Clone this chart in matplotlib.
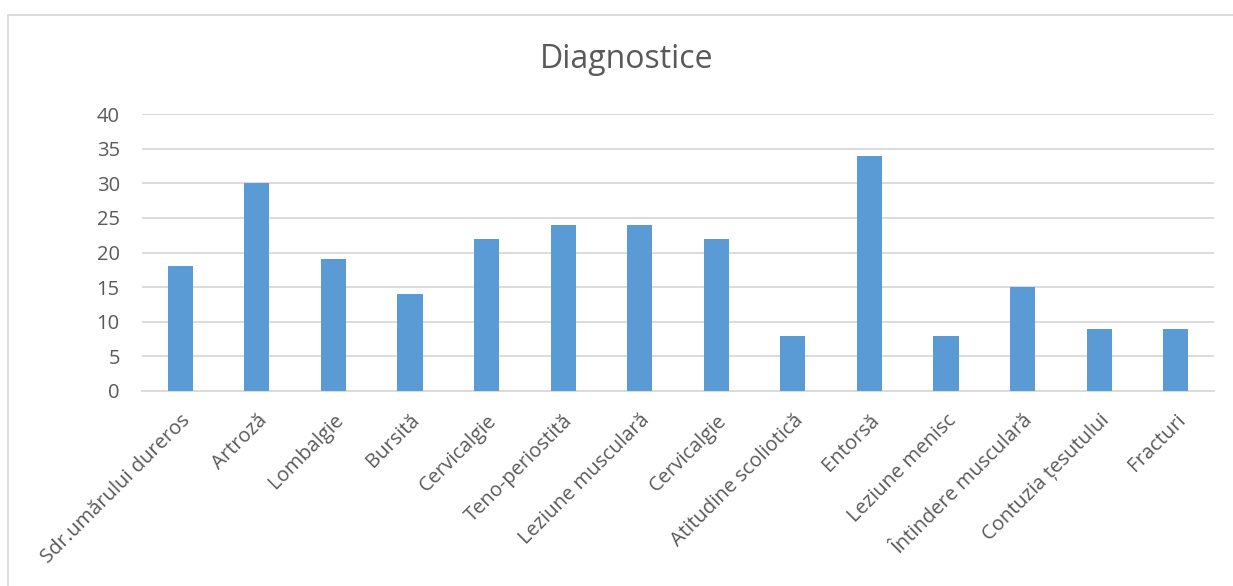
import matplotlib.pyplot as plt
from matplotlib.lines import Line2D
import numpy as np

plt.rcParams['font.family'] = ['Open Sans', 'DejaVu Sans']

categories = ['Sdr.umărului dureros', 'Artroză', 'Lombalgie', 'Bursită',
              'Cervicalgie', 'Teno-periostită', 'Leziune musculară',
              'Cervicalgie', 'Atitudine scoliotică', 'Entorsă',
              'Leziune menisc', 'Întindere musculară', 'Contuzia țesutului',
              'Fracturi']
values = [18, 30, 19, 14, 22, 24, 24, 22, 8, 34, 8, 15, 9, 9]
y_ticks = [0, 5, 10, 15, 20, 25, 30, 35, 40]

W, H = 1233, 586
fig = plt.figure(figsize=(W / 100, H / 100), dpi=100)
ax = fig.add_axes([142 / W, 1 - 391 / H, (1214 - 142) / W, (391 - 114) / H])

x = np.arange(len(categories))
ax.bar(x, values, width=0.33, color='#5b9bd5', zorder=3)
ax.set_xlim(-0.5, len(categories) - 0.5)
ax.set_ylim(0, 40)
ax.set_yticks(y_ticks)
ax.yaxis.grid(True, color='#d9d9d9', linewidth=1.3, zorder=0)

for s in ['top', 'right', 'left']:
    ax.spines[s].set_visible(False)
ax.spines['bottom'].set_color('#d9d9d9')
ax.spines['bottom'].set_linewidth(1.3)

ax.set_xticks(x)
ax.set_xticklabels(categories, rotation=45, ha='right', rotation_mode='anchor')
ax.tick_params(axis='both', length=0, labelsize=14.5, labelcolor='#595959')
ax.tick_params(axis='x', pad=14)
ax.tick_params(axis='y', pad=16)

fig.text(627 / W, 1 - 60 / H, 'Diagnostice', ha='center', va='center',
         fontsize=23, color='#595959')

# chart frame (only top and left visible in the crop)
fig.add_artist(Line2D([8 / W, 1], [1 - 15 / H, 1 - 15 / H], color='#d9d9d9', linewidth=1.3))
fig.add_artist(Line2D([8 / W, 8 / W], [0, 1 - 15 / H], color='#d9d9d9', linewidth=1.3))

fig.savefig('out.png', dpi=100)
